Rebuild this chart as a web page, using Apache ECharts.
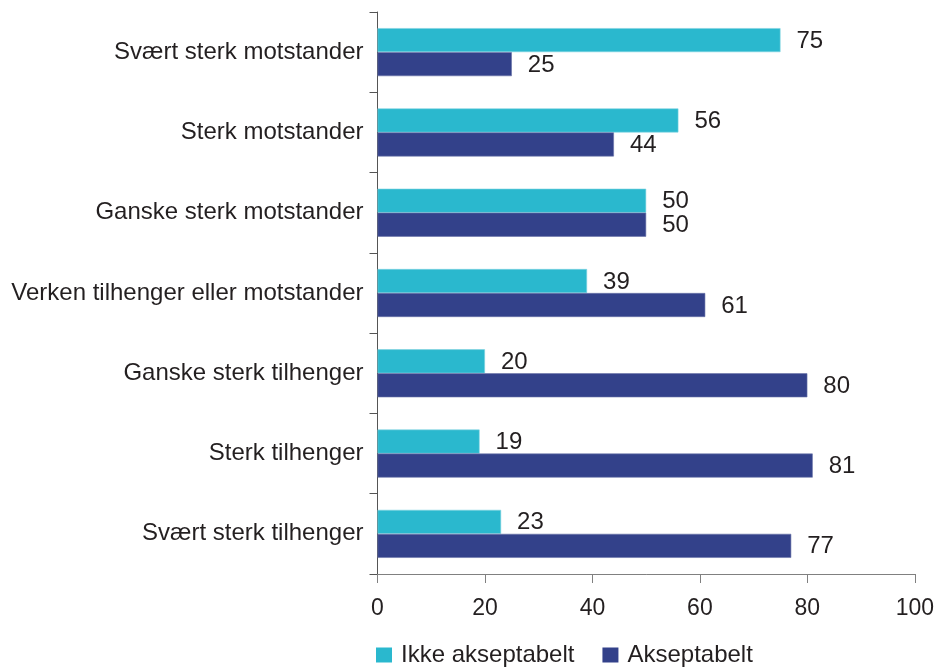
<!DOCTYPE html>
<html>
<head>
<meta charset="utf-8">
<script src="https://cdn.jsdelivr.net/npm/echarts@6/dist/echarts.min.js"></script>
<style>
  html, body { margin: 0; padding: 0; background: #ffffff; }
  #chart { width: 937px; height: 667px; }
</style>
</head>
<body>
<div id="chart"></div>
<script>
const categories = [
  'Svært sterk motstander',
  'Sterk motstander',
  'Ganske sterk motstander',
  'Verken tilhenger eller motstander',
  'Ganske sterk tilhenger',
  'Sterk tilhenger',
  'Svært sterk tilhenger'
];
const ikkeAkseptabelt = [75, 56, 50, 39, 20, 19, 23];
const akseptabelt = [25, 44, 50, 61, 80, 81, 77];
const xTicks = [0, 20, 40, 60, 80, 100];

const FONT = '"Liberation Sans", Arial, sans-serif';
const TEXT = '#231f20';

const chart = echarts.init(document.getElementById('chart'), null, { renderer: 'canvas' });

const labelStyle = {
  show: true,
  position: 'right',
  distance: 16,
  offset: [0, 1],
  color: TEXT,
  fontSize: 24,
  fontFamily: FONT
};

chart.setOption({
  animation: false,
  textStyle: { fontFamily: FONT },
  grid: { left: 377.5, right: 21, top: 12, bottom: 93, containLabel: false },
  legend: {
    left: 371,
    top: 638,
    itemWidth: 16,
    itemHeight: 15,
    itemGap: 28,
    icon: 'rect',
    itemStyle: { borderWidth: 0 },
    textStyle: { color: TEXT, fontSize: 24, fontFamily: FONT, padding: [0, 0, 0, 4] },
    data: ['Ikke akseptabelt', 'Akseptabelt']
  },
  xAxis: {
    type: 'value',
    min: xTicks[0],
    max: xTicks[xTicks.length - 1],
    interval: 20,
    axisLine: { show: true, lineStyle: { color: '#808080', width: 1 } },
    axisTick: { show: true, length: 9, lineStyle: { color: '#808080' } },
    splitLine: { show: false },
    axisLabel: { color: TEXT, fontSize: 23, fontFamily: FONT, margin: 23 }
  },
  yAxis: {
    type: 'category',
    inverse: true,
    data: categories,
    axisLine: { show: true, lineStyle: { color: '#555555', width: 1 } },
    axisTick: { show: true, length: 8, lineStyle: { color: '#555555' } },
    axisLabel: { color: TEXT, fontSize: 24, fontFamily: FONT, margin: 14 }
  },
  series: [
    {
      name: 'Ikke akseptabelt',
      type: 'bar',
      data: ikkeAkseptabelt,
      barWidth: 24,
      barGap: '0%',
      itemStyle: { color: '#2ab8ce', borderColor: '#7fd3e0', borderWidth: 0.6 },
      label: labelStyle
    },
    {
      name: 'Akseptabelt',
      type: 'bar',
      data: akseptabelt,
      barWidth: 24,
      barGap: '0%',
      itemStyle: { color: '#33418a', borderColor: '#6a74a8', borderWidth: 0.6 },
      label: labelStyle
    }
  ]
});
</script>
</body>
</html>
